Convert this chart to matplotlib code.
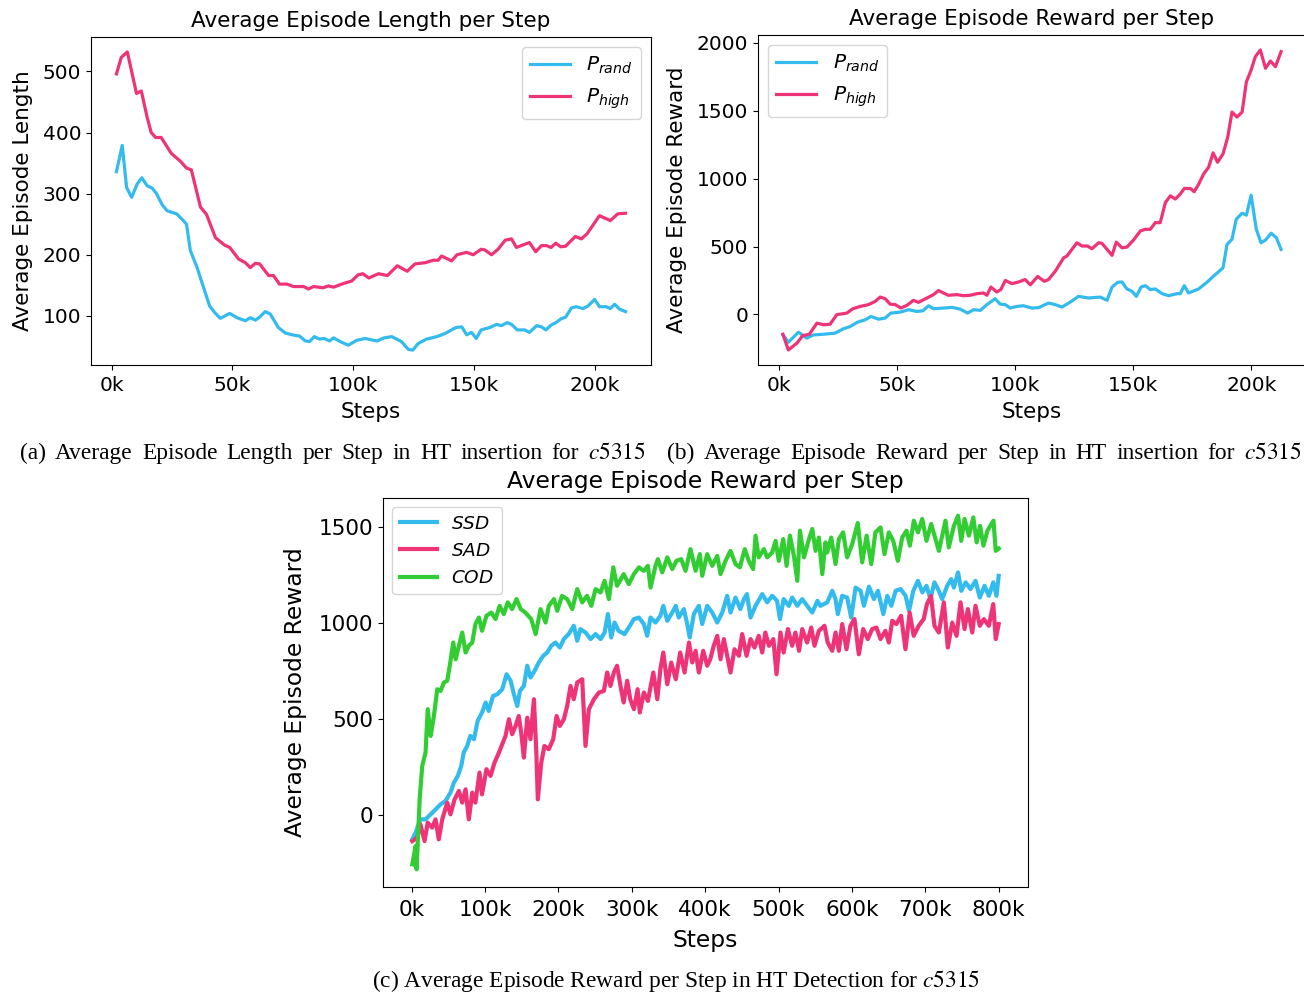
import matplotlib
matplotlib.use('Agg')
import matplotlib.pyplot as plt
from matplotlib.ticker import FuncFormatter, MultipleLocator

# ---- (a) episode length, steps in thousands ----
len_rand_steps = [2, 4.4, 6.2, 8.3, 10.6, 12.5, 14.7, 16.8, 18.6, 20.9, 23, 26.9, 29.2, 31, 32.6, 35.4,
                  38.1, 40.6, 43, 45, 48.9, 51.9, 55.4, 57.4, 59.5, 61.3, 63.6, 65.7, 69, 71.9, 74.7, 77.8,
                  80.2, 82, 83.9, 86, 88, 90.2, 91.9, 94.6, 98, 101.5, 105, 108.4, 110, 112.8, 116, 120,
                  122.9, 124.7, 127, 130.4, 134.6, 138, 142.6, 145, 147, 149, 151, 153, 156.6, 159.4, 161.4,
                  163.8, 165.6, 168, 171, 173, 176, 178, 179.8, 182, 184, 186, 188, 190.4, 192.4, 195.2,
                  197.2, 200, 202, 204.8, 206.5, 208.3, 210.3, 212.8]
len_rand = [336, 379, 310, 294, 316, 326, 313, 309, 300, 282, 272, 267, 258, 250, 207, 179,
            146, 116, 104, 96, 104, 97, 92, 97, 93, 98, 107, 103, 81, 72, 69, 67,
            59, 58, 66, 62, 63, 59, 64, 58, 52, 60, 63, 60, 59, 64, 66, 58,
            45, 44, 55, 62, 66, 71, 81, 82, 69, 73, 63, 77, 81, 86, 84,
            89, 86, 77, 77, 73, 84, 82, 77, 85, 89, 95, 98, 113, 115, 112,
            116, 127, 115, 115, 112, 119, 111, 107]

len_high_steps = [2, 4, 6.5, 10.3, 12.3, 14.7, 16.4, 18.2, 20.5, 24.7, 28.5, 31, 33, 36.8, 39.3, 43,
                  46.7, 48.9, 52.6, 55.4, 57.4, 59.5, 61.3, 65, 67, 69.5, 72.6, 75.3, 79.5, 81.5, 83.6,
                  87.5, 89.8, 91.9, 96, 99.4, 102, 104, 106.5, 110.5, 114.2, 118.3, 122.4, 125.6, 129.8,
                  133.2, 135.2, 136.6, 140.8, 143, 147, 149.7, 153, 154.5, 157.3, 160, 163, 165.6, 167.6,
                  173, 175.6, 178, 180, 182, 183.9, 186, 188, 192, 194.5, 196.8, 202, 206.5, 209.6, 212.8]
len_high = [496, 523, 532, 464, 468, 425, 400, 392, 392, 366, 353, 342, 339, 278, 266, 228,
            216, 212, 193, 187, 179, 186, 185, 166, 166, 152, 152, 148, 148, 144, 148,
            146, 149, 147, 153, 157, 167, 169, 162, 169, 166, 182, 173, 185, 187,
            191, 191, 198, 190, 200, 204, 200, 209, 208, 200, 209, 224, 226, 212,
            220, 205, 215, 215, 212, 219, 213, 214, 230, 226, 234, 264, 256, 267, 268]

# ---- (b) episode reward in HT insertion ----
rew_rand_steps = [1.6, 3.9, 8.2, 11.7, 14.5, 18.8, 23.7, 27.2, 30.1, 33.2, 36.4, 38.9, 42.1, 44.9, 47.3,
                  51.3, 54.8, 58.3, 60.9, 63.3, 65.4, 69.6, 73.2, 76.7, 79.8, 82.4, 85.2, 88, 91.5, 93.6,
                  95.8, 97.9, 100.7, 103.5, 107, 109.9, 114.1, 117, 119.8, 123.3, 126.8, 131.1, 136, 138.9,
                  141, 143.4, 145.2, 147.3, 149.5, 151.3, 153.3, 155.1, 157.2, 159.3, 162.2, 165, 168.5,
                  169.9, 171.6, 173.4, 177.7, 181.2, 184.3, 188, 189.7, 191.8, 193.6, 196.1, 197.9, 199.9,
                  202.1, 204.1, 206, 208.4, 210.6, 212.6]
rew_rand = [-150, -205, -131, -175, -151, -146, -138, -106, -89, -57, -40, -15, -35, -27, 10,
            17, 35, 22, 27, 64, 42, 47, 52, 39, 10, 35, 30, 72, 116, 76,
            72, 47, 59, 64, 47, 50, 84, 72, 54, 91, 133, 121, 128, 104,
            202, 237, 239, 188, 170, 133, 202, 212, 183, 188, 153, 138, 153,
            153, 212, 158, 188, 237, 287, 343, 516, 553, 701, 746, 731, 879,
            627, 528, 548, 598, 565, 479]

rew_high_steps = [1.6, 3.9, 7.5, 10, 12.8, 16, 18.8, 21.6, 24.4, 28.7, 31.2, 34.3, 37.8, 40.7, 42.8,
                  44.9, 47, 49.2, 51.6, 54.1, 56.9, 59, 62.6, 65.4, 67.5, 69.6, 71.7, 75.3, 78.1, 80.9,
                  83.8, 86.6, 88, 89.7, 92.2, 93.9, 95.8, 98.6, 101.4, 104.2, 106.4, 109.5, 112.3, 114.1,
                  117, 120.5, 121.9, 126.1, 128.3, 130.6, 132.5, 135.3, 136.7, 138.9, 141, 142.8, 145.2,
                  147.3, 150.1, 153, 155.1, 157.2, 159.3, 161.4, 163.6, 165.7, 167.8, 169.9, 171.6, 174.2,
                  175.8, 177.7, 179.8, 181.9, 183.8, 185.7, 188, 190, 191.8, 193.9, 196.1, 197.9, 199.9,
                  201.7, 203.8, 206, 208.1, 210.2, 212.6]
rew_high = [-146, -262, -212, -156, -146, -64, -76, -72, -2, 10, 42, 59, 72, 96, 128,
            116, 76, 72, 47, 67, 104, 89, 121, 146, 176, 158, 141, 146, 138, 141,
            153, 158, 141, 202, 165, 183, 250, 227, 239, 257, 218, 280, 244, 257,
            319, 417, 430, 528, 504, 504, 484, 528, 524, 479, 435, 533, 491,
            496, 548, 615, 627, 627, 676, 676, 824, 874, 850, 887, 928, 928,
            904, 960, 1035, 1084, 1190, 1121, 1183, 1306, 1491, 1454, 1491, 1713, 1800,
            1899, 1948, 1813, 1867, 1825, 1936]

# ---- (c) episode reward in HT detection ----
ssd_steps = [1, 5.5, 12, 19, 26, 32.7, 39.5, 46, 53, 57.6, 63, 67.7, 71, 75.8, 80, 85, 90, 96, 101, 105,
             111, 116.8, 123.6, 129.4, 135, 139.4, 144, 147.6, 153, 157.6, 162, 167.6, 173.4, 179.4, 184.8,
             190.3, 196, 202, 207.5, 214, 221, 225.7, 230, 237, 244, 250.7, 257.5, 263, 267.5, 272, 276.6,
             282, 290, 296, 302.9, 309.7, 316.5, 321, 325.6, 332.4, 339, 343, 348.4, 355.2, 360, 364, 371,
             375.6, 379, 384.6, 391.4, 396, 402.8, 409.7, 416.5, 423.3, 430, 434.6, 441.4, 448, 452.8, 457,
             461.9, 468.7, 477.8, 484.6, 491.4, 498, 502, 507, 514, 518.6, 525.6, 532.3, 539, 546, 553, 557,
             566.4, 573.2, 577.7, 580.8, 586.8, 593.5, 599, 605, 611.8, 616.4, 623.2, 630, 635.5, 642.8,
             648.2, 653.7, 659.6, 666.4, 673.2, 677.8, 683.7, 690, 696, 701.6, 707, 712.5, 718.5, 723,
             729.8, 735.3, 739, 744.6, 749, 755, 761.6, 768.4, 774.3, 780.7, 786.6, 792.6, 797, 800]
ssd = [-125, -90, -21, -21, 5, 31, 57, 74, 118, 170, 205, 257, 326, 361, 413, 396, 491, 535, 587, 543,
       621, 630, 656, 734, 700, 630, 569, 647, 673, 778, 717, 752, 795, 830, 847,
       882, 899, 873, 917, 943, 986, 908, 969, 951, 917, 943, 917, 951, 1047, 925, 1003,
       960, 943, 977, 1021, 1029, 995, 934, 1029, 1003, 1038, 1090, 1012, 1055, 1090, 1029, 1073,
       995, 925, 1047, 1090, 995, 1090, 1055, 1003, 1055, 1142, 1055, 1133, 1073, 1125, 1151,
       1029, 1090, 1151, 1108, 1142, 1116, 1021, 1125, 1090, 1133, 1090, 1125, 1090, 1055, 1116, 1090,
       1108, 1168, 1125, 1047, 1142, 1133, 1029, 1185, 1168, 1090, 1190, 1125, 1168, 1047,
       1142, 1090, 1168, 1177, 1142, 1064, 1168, 1220, 1160, 1194, 1125, 1212, 1168, 1125,
       1194, 1229, 1185, 1264, 1168, 1212, 1177, 1220, 1133, 1194, 1142, 1212, 1142, 1246]

sad_steps = [1, 7.8, 12, 17.7, 22, 28, 32.7, 37, 41.8, 48.6, 53, 58.6, 64.5, 69, 73.6, 78, 82.7, 87, 92.6,
             96, 102, 107.6, 113, 119, 123.6, 128, 132.7, 137, 141.7, 146, 149.4, 153, 157.6, 162, 166.7,
             170, 172, 176.7, 181, 187, 193, 197.6, 202, 207.5, 212, 216.6, 221, 225.7, 232.5, 237, 241.6,
             248.5, 255.3, 262, 266.6, 271, 275.6, 280, 284.7, 289, 293.8, 298, 303, 308, 311, 316.5, 322,
             329.4, 334.8, 339, 343, 348.4, 353.8, 360, 366, 372, 378, 382.4, 387, 391.4, 397.4, 402.8,
             407, 411.7, 416.5, 421, 425.5, 430, 434.6, 440, 446, 450.5, 456.4, 461.9, 467.3, 473, 477.8,
             482, 487, 493, 497.3, 502.7, 507, 512.8, 518.6, 523, 528, 532.3, 539, 544.6, 549, 555, 562.7,
             567, 573.2, 577.7, 582.2, 586.8, 592.6, 598, 603.5, 609.4, 615.4, 621.6, 627.6, 633.4, 639,
             645.6, 650.3, 655, 660.6, 667, 673, 678.7, 684.2, 691, 697.8, 702.3, 707.8, 712.5, 718.5,
             725.3, 730.7, 736.7, 742.6, 748, 753.5, 758, 764, 768.4, 774.3, 779.8, 786.6, 792.6, 796, 800]
sad = [-134, -116, -47, -134, -38, -64, -21, -125, -21, 66, 5, 83, 127, 66, 135, -21, 118, 66, 222,
       109, 240, 205, 274, 326, 370, 413, 500, 422, 465, 517, 430, 300, 508, 396, 604,
       326, 83, 274, 361, 344, 396, 517, 465, 500, 569, 673, 604, 691, 708, 361, 552,
       604, 639, 647, 743, 673, 743, 778, 673, 587, 700, 604, 552, 656, 535, 639, 595,
       743, 604, 760, 847, 682, 795, 708, 847, 743, 899, 795, 856, 743, 856, 778,
       812, 882, 934, 812, 917, 830, 743, 864, 830, 943, 830, 917, 873, 934, 847,
       951, 882, 917, 734, 951, 847, 969, 882, 951, 856, 969, 899, 977, 882, 960, 986,
       899, 856, 951, 856, 995, 864, 986, 1021, 838, 969, 917, 969, 977, 917,
       960, 899, 1012, 995, 1038, 864, 1055, 934, 986, 1021, 1099, 1142, 986, 951,
       1108, 873, 1003, 934, 1108, 969, 1073, 951, 1090, 986, 1021, 986, 1099, 917, 995]

cod_steps = [1, 5.5, 6.8, 11, 14.5, 19, 22, 26, 30.4, 35, 39.5, 44, 48.6, 52, 56.8, 60, 64.5, 69, 73.6,
             78, 82.7, 87, 91.7, 96, 102, 108.6, 114.4, 120, 125.7, 131, 137, 143, 148.7, 155, 163, 169,
             175.7, 182.6, 187, 194, 198.5, 205, 212, 219, 225.7, 232.5, 239, 244.8, 250.7, 257.5, 263,
             268.8, 274.8, 280, 289, 296, 302.9, 309.7, 316.5, 322, 325.6, 332.4, 335.6, 341.6, 348.4,
             355.2, 361, 367.4, 373.3, 380, 387, 392.8, 396, 402.8, 409.7, 416.5, 421, 427.8, 434.6,
             441.4, 447.3, 454, 459.5, 465.4, 468.7, 473, 480, 484.6, 491.4, 496, 500.4, 506.4, 511,
             515.5, 521, 525.6, 529.2, 534.7, 541.5, 546, 550.5, 555, 559.6, 564, 566.4, 571.8, 577.7,
             582.2, 588, 593.5, 600.4, 608, 614, 620, 626.4, 632, 639, 644.4, 650.3, 656.3, 662.6, 668.5,
             674.4, 679, 684.4, 690, 695.8, 701.6, 708, 714, 718.5, 723, 727.5, 732, 739, 744.6, 749,
             753.5, 759.4, 765.4, 770, 774.7, 779.2, 784.7, 792.9, 796, 800]
cod = [-255, -160, -281, 83, 257, 326, 552, 413, 517, 656, 647, 691, 700, 778, 899, 812, 882, 951, 847,
       882, 899, 995, 1029, 960, 1038, 1055, 1021, 1090, 1047, 1108, 1073, 1125, 1073, 1055, 1021, 943,
       1073, 1003, 1090, 1125, 1064, 1142, 1125, 1073, 1177, 1108, 1142, 1090, 1177, 1160, 1220,
       1125, 1290, 1194, 1255, 1203, 1255, 1290, 1272, 1298, 1185, 1298, 1333, 1264, 1342,
       1281, 1324, 1333, 1272, 1385, 1272, 1359, 1246, 1359, 1298, 1350, 1255, 1324, 1376,
       1307, 1290, 1385, 1324, 1281, 1455, 1342, 1385, 1342, 1368, 1428, 1324, 1437, 1298,
       1455, 1350, 1220, 1481, 1342, 1437, 1490, 1376, 1445, 1255, 1420, 1368, 1445, 1307,
       1437, 1472, 1342, 1411, 1521, 1316, 1455, 1307, 1472, 1498, 1359, 1472, 1428, 1324, 1445,
       1481, 1403, 1533, 1472, 1542, 1428, 1516, 1437, 1376, 1455, 1533, 1394, 1506, 1559, 1428,
       1542, 1455, 1550, 1420, 1506, 1403, 1481, 1533, 1376, 1388]

CYAN = '#33BBEE'
MAGENTA = '#EE3377'
GREEN = '#32CD32'

W, H = 1304, 994
fig = plt.figure(figsize=(W / 100, H / 100), dpi=100)


def px_axes(left, top, right, bottom):
    # axes box given in pixel edges measured from the top-left corner
    return fig.add_axes([left / W, 1 - bottom / H, (right - left) / W, (bottom - top) / H])


kfmt = FuncFormatter(lambda v, pos: f'{v:.0f}k')

# (a)
ax = px_axes(91, 37, 651, 365)
ax.plot(len_rand_steps, len_rand, color=CYAN, lw=2.3, label='$P_{rand}$')
ax.plot(len_high_steps, len_high, color=MAGENTA, lw=2.3, label='$P_{high}$')
ax.set_title('Average Episode Length per Step', fontsize=15.5, pad=7.5)
ax.set_xlabel('Steps', fontsize=15.5, labelpad=5)
ax.set_ylabel('Average Episode Length', fontsize=15.5, labelpad=7)
ax.tick_params(labelsize=14.5)
ax.tick_params(axis='x', pad=4.5)
ax.xaxis.set_major_formatter(kfmt)
ax.legend(loc='upper right', fontsize=14.5)

# (b)
ax = px_axes(758, 35, 1306, 365)
ax.plot(rew_rand_steps, rew_rand, color=CYAN, lw=2.3, label='$P_{rand}$')
ax.plot(rew_high_steps, rew_high, color=MAGENTA, lw=2.3, label='$P_{high}$')
ax.set_title('Average Episode Reward per Step', fontsize=15.5, pad=7.5)
ax.set_xlabel('Steps', fontsize=15.5, labelpad=5)
ax.set_ylabel('Average Episode Reward', fontsize=15.5, labelpad=7)
ax.tick_params(labelsize=14.5)
ax.tick_params(axis='x', pad=4.5)
ax.xaxis.set_major_formatter(kfmt)
ax.legend(loc='upper left', fontsize=14.5)

# (c)
ax = px_axes(383, 498, 1028, 887)
ax.plot(ssd_steps, ssd, color=CYAN, lw=3, label='$SSD$')
ax.plot(sad_steps, sad, color=MAGENTA, lw=3, label='$SAD$')
ax.plot(cod_steps, cod, color=GREEN, lw=3, label='$COD$')
ax.set_title('Average Episode Reward per Step', fontsize=16.8, pad=7.5)
ax.set_xlabel('Steps', fontsize=16.8, labelpad=7)
ax.set_ylabel('Average Episode Reward', fontsize=16.8, labelpad=8.5)
ax.tick_params(labelsize=15.5)
ax.tick_params(axis='x', pad=5.5)
ax.xaxis.set_major_locator(MultipleLocator(100))
ax.yaxis.set_major_locator(MultipleLocator(500))
ax.xaxis.set_major_formatter(kfmt)
ax.legend(loc='upper left', fontsize=13.3)

# sub-captions
CAP = dict(fontsize=16.8, family='Liberation Serif', math_fontfamily='stix', va='baseline')
renderer = fig.canvas.get_renderer()


def justified(x0, x1, baseline, text):
    words = text.split(' ')
    items = [fig.text(0, 1 - baseline / H, w, **CAP) for w in words]
    widths = [t.get_window_extent(renderer).width for t in items]
    gap = (x1 - x0 - sum(widths)) / (len(words) - 1)
    x = x0
    for t, w in zip(items, widths):
        t.set_x(x / W)
        x += w + gap


justified(20, 646, 459, '(a) Average Episode Length per Step in HT insertion for $c5315$')
justified(667, 1302, 459, '(b) Average Episode Reward per Step in HT insertion for $c5315$')
fig.text(676.5 / W, 1 - 987 / H, '(c) Average Episode Reward per Step in HT Detection for $c5315$',
         ha='center', **CAP)

fig.savefig('out.png', dpi=100, facecolor='white')
